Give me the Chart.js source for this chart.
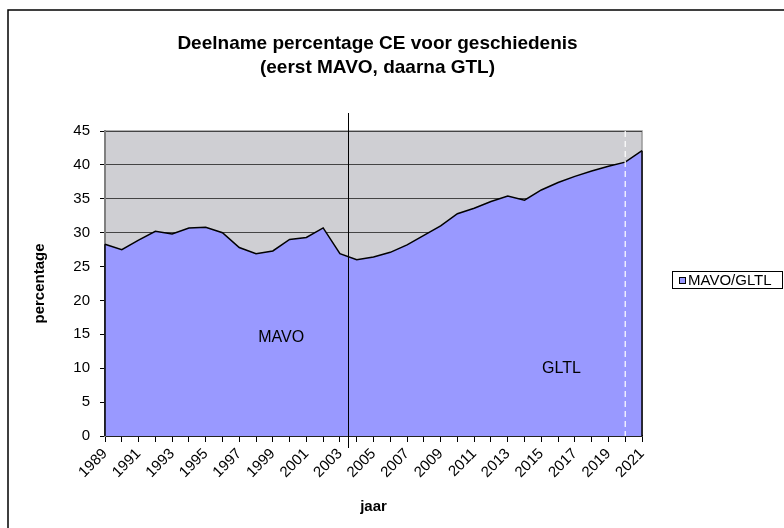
<!DOCTYPE html>
<html><head><meta charset="utf-8">
<script src="https://cdn.jsdelivr.net/npm/chart.js@4/dist/chart.umd.min.js"></script>
<style>html,body{margin:0;padding:0;background:#fff;overflow:hidden}#wrap{position:relative;width:784px;height:528px}</style>
</head><body><div id="wrap"><canvas id="c" width="784" height="528"></canvas></div>
<script>
const years = ['1989','1990','1991','1992','1993','1994','1995','1996','1997','1998','1999','2000','2001','2002','2003','2004','2005','2006','2007','2008','2009','2010','2011','2012','2013','2014','2015','2016','2017','2018','2019','2020','2021'];
const percentage = [28.3,27.5,28.9,30.2,29.8,30.7,30.8,30.0,27.8,26.9,27.3,29.0,29.3,30.7,26.9,26.0,26.4,27.1,28.2,29.6,31.0,32.8,33.6,34.6,35.4,34.8,36.3,37.4,38.3,39.1,39.8,40.4,42.1];
const seriesLabel = 'MAVO/GLTL';
const chartTitle = ['Deelname percentage CE voor geschiedenis', '(eerst MAVO, daarna GTL)'];
const xAxisTitle = 'jaar';
const yAxisTitle = 'percentage';
const yMax = 45, yStep = 5;
const regionLabels = ['MAVO', 'GLTL'];
const regionLabelYear = [1999.5, 2016.2];
const regionLabelValue = [14.5, 10.0];
const switchYear = 2003.5;   // solid black divider
const dashedYear = 2020;     // white dashed marker

const FONT = '"Liberation Sans", Arial, Helvetica, sans-serif';
const yearIdx = y => y - Number(years[0]);

const decor = {
  id: 'decor',
  beforeDraw(chart) {
    const {ctx, chartArea: a} = chart;
    ctx.save();
    ctx.fillStyle = '#cfcfd3';
    ctx.fillRect(a.left, a.top, a.right - a.left, a.bottom - a.top);
    ctx.strokeStyle = '#999';
    ctx.lineWidth = 1.5;
    ctx.beginPath();
    ctx.moveTo(a.left, a.top); ctx.lineTo(a.right, a.top); ctx.lineTo(a.right, a.bottom);
    ctx.stroke();
    ctx.restore();
  },
  afterDatasetsDraw(chart) {
    const {ctx, chartArea: a, scales: {x, y}} = chart;
    ctx.save();
    ctx.strokeStyle = '#000'; ctx.lineWidth = 1.5;
    const x0 = x.getPixelForValue(0), xn = x.getPixelForValue(years.length - 1);
    ctx.beginPath();
    ctx.moveTo(x0, y.getPixelForValue(percentage[0])); ctx.lineTo(x0, y.getPixelForValue(0));
    ctx.moveTo(xn, y.getPixelForValue(percentage[percentage.length - 1])); ctx.lineTo(xn, y.getPixelForValue(0));
    ctx.stroke();
    const xd = x.getPixelForValue(yearIdx(dashedYear));
    ctx.strokeStyle = '#fff'; ctx.lineWidth = 1.2; ctx.setLineDash([6, 4]);
    ctx.beginPath(); ctx.moveTo(xd, a.top); ctx.lineTo(xd, a.bottom); ctx.stroke();
    ctx.setLineDash([]);
    const xs = Math.round(x.getPixelForValue(yearIdx(switchYear))) + 0.5;
    ctx.strokeStyle = '#000'; ctx.lineWidth = 1;
    ctx.beginPath(); ctx.moveTo(xs, a.top - 18); ctx.lineTo(xs, a.bottom + 12); ctx.stroke();
    ctx.fillStyle = '#000';
    ctx.font = '16px ' + FONT;
    ctx.textAlign = 'center'; ctx.textBaseline = 'middle';
    regionLabels.forEach((t, i) => {
      ctx.fillText(t, x.getPixelForValue(yearIdx(regionLabelYear[i])), y.getPixelForValue(regionLabelValue[i]));
    });
    ctx.restore();
  },
  afterDraw(chart) {
    const {ctx, chartArea: a} = chart;
    ctx.save();
    ctx.strokeStyle = '#000'; ctx.lineWidth = 1.5;
    ctx.beginPath(); ctx.moveTo(8, 540); ctx.lineTo(8, 10); ctx.lineTo(800, 10); ctx.stroke();
    ctx.fillStyle = '#000';
    ctx.font = 'bold 19px ' + FONT;
    ctx.textAlign = 'center'; ctx.textBaseline = 'middle';
    const cx = (a.left + a.right) / 2 + 4;
    ctx.fillText(chartTitle[0], cx, 44);
    ctx.fillText(chartTitle[1], cx, 68);
    ctx.lineWidth = 1; ctx.strokeStyle = '#000';
    ctx.strokeRect(672.5, 271.5, 110, 17);
    ctx.fillStyle = '#9999ff';
    ctx.fillRect(679.5, 277.5, 6, 6);
    ctx.strokeRect(679.5, 277.5, 6, 6);
    ctx.fillStyle = '#000';
    ctx.font = '15px ' + FONT;
    ctx.textAlign = 'left';
    ctx.fillText(seriesLabel, 688, 281);
    ctx.restore();
  }
};

new Chart(document.getElementById('c'), {
  type: 'line',
  data: {
    labels: years,
    datasets: [{
      label: seriesLabel,
      data: percentage,
      borderColor: '#000',
      borderWidth: 1.5,
      backgroundColor: '#9999ff',
      fill: 'origin',
      pointRadius: 0,
      tension: 0
    }]
  },
  options: {
    responsive: false,
    animation: false,
    devicePixelRatio: 1,
    layout: {padding: {left: 0, top: 131, right: 142, bottom: 0}},
    plugins: {legend: {display: false}, title: {display: false}, tooltip: {enabled: false}},
    scales: {
      x: {
        type: 'category',
        offset: false,
        grid: {display: true, drawOnChartArea: false, tickLength: 6, tickColor: '#000', lineWidth: 1},
        border: {display: true, color: '#000', width: 1.5},
        ticks: {
          autoSkip: false, maxRotation: 45, minRotation: 45, padding: 3,
          color: '#000', font: {family: FONT, size: 15},
          callback: (v, i) => (i % 2 === 0 ? years[i] : '')
        },
        title: {display: true, text: xAxisTitle, color: '#000', font: {family: FONT, size: 15, weight: 'bold'}, padding: {top: 0, bottom: 12}},
        afterFit(s) { s.height = 92; s.paddingLeft = 0; s.paddingRight = 0; }
      },
      y: {
        min: 0, max: yMax,
        grid: {color: '#444', lineWidth: 1, tickLength: 5, tickColor: '#000'},
        border: {display: true, color: '#808080', width: 2},
        ticks: {stepSize: yStep, padding: 10, color: '#000', font: {family: FONT, size: 15}},
        title: {display: true, text: yAxisTitle, color: '#000', font: {family: FONT, size: 15, weight: 'bold'}, padding: {top: 31, bottom: 0}},
        afterFit(s) { s.width = 105; s.paddingTop = 0; s.paddingBottom = 0; }
      }
    }
  },
  plugins: [decor]
});
</script></body></html>
